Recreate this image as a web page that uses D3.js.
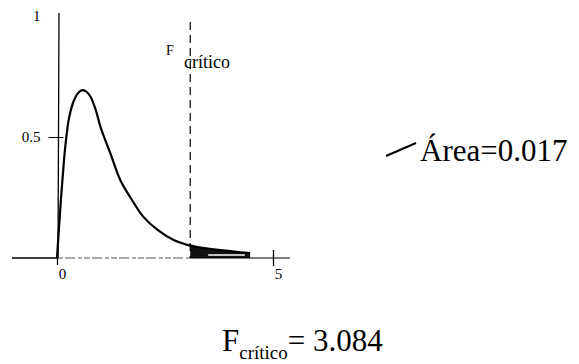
<!DOCTYPE html>
<html>
<head>
<meta charset="utf-8">
<script src="https://cdn.jsdelivr.net/npm/d3@7"></script>
<style>
  body { margin: 0; background: #fff; }
</style>
</head>
<body>
<svg id="chart" width="579" height="364"></svg>
<script>
// curve (x = F value, y = density)
var curveX = [0, 0.09, 0.16, 0.21, 0.28, 0.39, 0.51, 0.60, 0.69, 0.78, 0.90, 1.01, 1.24, 1.47, 1.77, 2.00, 2.33, 2.70, 3.02, 3.25, 3.78, 4.47];
var curveY = [0, 0.24, 0.40, 0.49, 0.58, 0.65, 0.686, 0.694, 0.686, 0.665, 0.61, 0.54, 0.43, 0.32, 0.23, 0.17, 0.116, 0.074, 0.054, 0.045, 0.033, 0.02];
var xTicks = [0, 5];
var yTicks = [0.5, 1];
var fCritico = 3.084;
var areaValue = 0.017;

var serif = "'Liberation Serif', 'Times New Roman', Times, 'DejaVu Serif', serif";

var svg = d3.select("#chart");

// scales
var x = d3.scaleLinear().domain([0, 5]).range([57, 273]);
var y = d3.scaleLinear().domain([0, 1]).range([258, 16]);

var data = curveX.map(function(d, i) { return {x: d, y: curveY[i]}; });

// shaded tail beyond the critical value
var tail = data.filter(function(d) { return d.x >= fCritico; });
tail.unshift({x: fCritico, y: 0.05});
svg.append("path")
    .datum(tail)
    .attr("d", d3.area().x(function(d) { return x(d.x); }).y0(y(0)).y1(function(d) { return y(d.y); }))
    .attr("fill", "#111");
// light strip inside the shaded tail (as in the scan)
svg.append("line")
    .attr("x1", x(3.5)).attr("x2", x(4.35))
    .attr("y1", y(0.012)).attr("y2", y(0.012))
    .attr("stroke", "#fff").attr("stroke-width", 1.5);

// x axis: solid left part, faint broken middle, solid right part
svg.append("line")
    .attr("x1", 12).attr("x2", x(0))
    .attr("y1", y(0)).attr("y2", y(0))
    .attr("stroke", "#000").attr("stroke-width", 1.6);
svg.append("line")
    .attr("x1", x(0)).attr("x2", x(fCritico))
    .attr("y1", y(0)).attr("y2", y(0))
    .attr("stroke", "#555").attr("stroke-width", 1)
    .attr("stroke-dasharray", "6,2,10,3,4,2");
svg.append("line")
    .attr("x1", x(fCritico)).attr("x2", 290)
    .attr("y1", y(0)).attr("y2", y(0))
    .attr("stroke", "#000").attr("stroke-width", 1.2);

var gx = svg.append("g")
    .attr("transform", "translate(0," + y(0) + ")")
    .call(d3.axisBottom(x).tickValues(xTicks).tickSize(0).tickPadding(10).tickFormat(d3.format("d")));
gx.attr("font-family", null);
gx.select(".domain").remove();
gx.selectAll("text").style("font-size", "15px").style("font-family", serif).attr("dx", "5");
gx.selectAll(".tick").filter(function(d) { return d === 0; })
    .append("line").attr("y1", 0).attr("y2", 7).attr("stroke", "#000").attr("stroke-width", 1.3);
gx.selectAll(".tick").filter(function(d) { return d === 5; })
    .append("line").attr("y1", -8).attr("y2", 8).attr("stroke", "#000").attr("stroke-width", 1.3);

// y axis
svg.append("line")
    .attr("x1", x(0) + 1).attr("x2", x(0) + 2)
    .attr("y1", y(0)).attr("y2", y(1) - 3)
    .attr("stroke", "#000").attr("stroke-width", 1.3);
var gy = svg.append("g")
    .attr("transform", "translate(" + (x(0) + 1.5) + ",0)")
    .call(d3.axisLeft(y).tickValues(yTicks).tickSize(0).tickPadding(18).tickFormat(function(d) { return d === 1 ? "1" : d; }));
gy.attr("font-family", null);
gy.select(".domain").remove();
gy.selectAll("text").style("font-size", "15px").style("font-family", serif);
gy.selectAll(".tick").filter(function(d) { return d === 0.5; })
    .append("line").attr("x1", -10).attr("x2", 5).attr("stroke", "#000").attr("stroke-width", 1);

// density curve
svg.append("path")
    .datum(data)
    .attr("d", d3.line().x(function(d) { return x(d.x); }).y(function(d) { return y(d.y); }).curve(d3.curveCatmullRom))
    .attr("fill", "none")
    .attr("stroke", "#000")
    .attr("stroke-width", 2.2);

// critical value line
svg.append("line")
    .attr("x1", x(fCritico)).attr("x2", x(fCritico))
    .attr("y1", 22).attr("y2", y(0))
    .attr("stroke", "#000").attr("stroke-width", 1.2)
    .attr("stroke-dasharray", "8,5");

svg.append("text")
    .attr("x", 166).attr("y", 55)
    .style("font-family", serif).style("font-size", "14px")
    .text("F");
svg.append("text")
    .attr("x", 184).attr("y", 68)
    .style("font-family", serif).style("font-size", "18px")
    .text("crítico");

// area annotation
svg.append("line")
    .attr("x1", 386).attr("y1", 156)
    .attr("x2", 416).attr("y2", 143)
    .attr("stroke", "#000").attr("stroke-width", 2);
svg.append("text")
    .attr("x", 420).attr("y", 161)
    .style("font-family", serif).style("font-size", "31px")
    .text("Área=" + areaValue);

// critical value text at the bottom
var bottom = svg.append("text")
    .attr("x", 222).attr("y", 351)
    .style("font-family", serif).style("font-size", "31px");
bottom.append("tspan").text("F");
bottom.append("tspan").attr("dy", 8).style("font-size", "19px").text("crítico");
bottom.append("tspan").attr("dy", -8).text("= " + fCritico);
</script>
</body>
</html>
